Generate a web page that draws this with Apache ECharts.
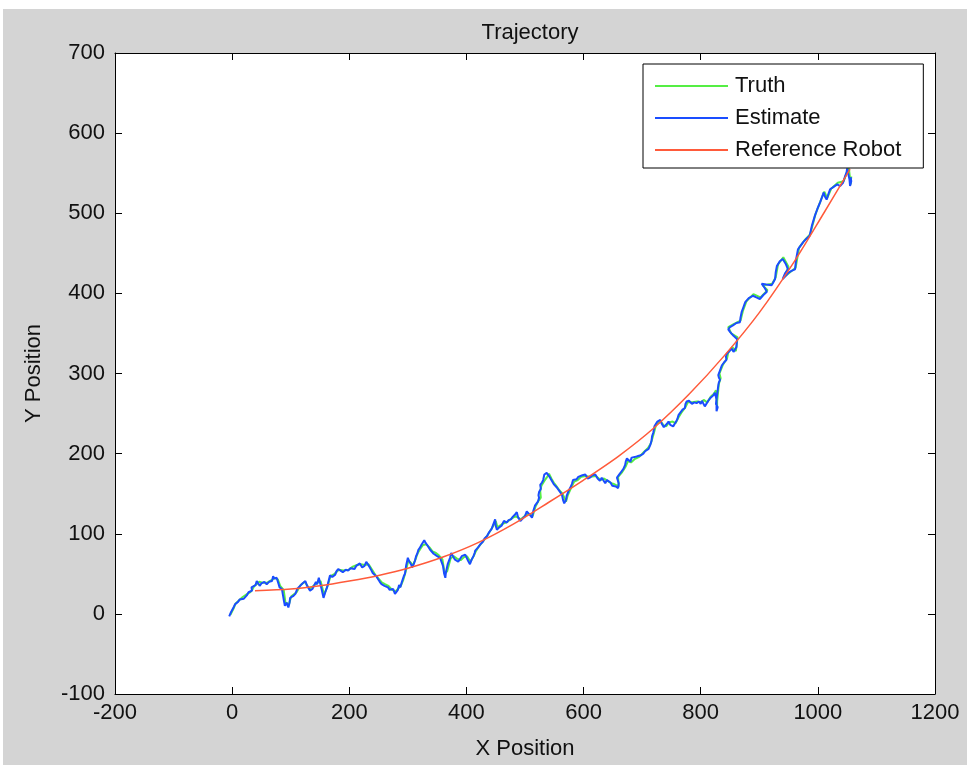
<!DOCTYPE html>
<html>
<head>
<meta charset="utf-8">
<script src="https://cdn.jsdelivr.net/npm/echarts@6/dist/echarts.min.js"></script>
<style>
  html, body { margin: 0; padding: 0; background: #fff; }
  #chart { position: absolute; left: 3px; top: 9px; width: 964px; height: 756px; }
</style>
</head>
<body>
<div id="chart"></div>
<script>
// ticks: min, max, step
var xTicks = [-200, 1200, 200]
var yTicks = [-100, 700, 100]

// series names
var seriesNames = ['Truth', 'Estimate', 'Reference Robot']

// Truth (green)
var truthPath = [
  [-3, -1], [2, 6], [6, 13], [12, 17], [18, 21], [26, 25], [31, 27], [35, 31], [38, 35], [42, 37],
  [46, 40], [52, 39], [60, 39], [67, 42], [73, 45], [78, 43], [82, 35], [88, 30], [91, 14], [97, 12],
  [101, 22], [110, 27], [117, 36], [124, 40], [132, 31], [139, 35], [146, 39], [151, 41], [157, 24], [163, 35],
  [168, 47], [175, 50], [182, 55], [190, 54], [199, 55], [206, 59], [213, 61], [219, 62], [227, 61], [233, 62],
  [239, 55], [244, 49], [250, 44], [256, 39], [261, 37], [267, 35], [273, 30], [279, 28], [284, 32], [288, 35],
  [292, 42], [296, 52], [301, 67], [305, 64], [308, 60], [313, 68], [317, 76], [322, 82], [326, 86], [331, 87],
  [337, 83], [342, 78], [348, 76], [353, 73], [359, 68], [363, 50], [367, 53], [373, 69], [378, 72], [384, 69],
  [390, 67], [396, 71], [401, 72], [407, 65], [413, 73], [416, 78], [421, 84], [429, 91], [436, 98], [441, 104],
  [446, 110], [450, 116], [453, 108], [461, 112], [470, 115], [477, 119], [484, 122], [493, 118], [501, 123], [507, 125],
  [513, 122], [518, 134], [523, 141], [527, 145], [526, 153], [528, 160], [533, 166], [537, 170], [541, 175], [545, 169],
  [549, 164], [553, 160], [559, 154], [564, 150], [570, 140], [573, 148], [578, 156], [584, 165], [590, 167], [596, 171],
  [604, 172], [612, 171], [621, 172], [629, 167], [635, 169], [641, 166], [647, 163], [652, 162], [660, 159], [659, 171],
  [666, 177], [672, 184], [676, 191], [681, 189], [687, 193], [695, 196], [703, 202], [710, 207], [715, 213], [719, 223],
  [722, 231], [724, 237], [732, 240], [737, 235], [741, 234], [746, 239], [752, 240], [757, 238], [762, 245], [767, 251],
  [774, 258], [778, 264], [786, 264], [794, 265], [801, 264], [805, 267], [811, 264], [817, 271], [823, 275], [826, 279],
  [828, 258], [828, 265], [831, 287], [834, 294], [832, 300], [838, 311], [845, 319], [847, 326], [854, 333], [860, 328],
  [863, 345], [852, 350], [847, 358], [857, 362], [868, 366], [872, 378], [878, 390], [890, 399], [902, 395], [914, 404],
  [906, 410], [922, 412], [928, 420], [932, 436], [941, 445], [950, 433], [942, 420], [962, 432], [968, 457], [977, 466],
  [987, 474], [996, 499], [1005, 516], [1011, 527], [1016, 519], [1023, 531], [1034, 538], [1044, 540], [1050, 552], [1053, 556],
  [1056, 536], [1057, 546]
]

// Estimate (blue)
var estimatePath = [
  [-5, -3], [-2, 2], [0, 4], [3, 9], [5, 12], [8, 11], [10, 15], [13, 18], [16, 20], [20, 19],
  [25, 23], [28, 27], [30, 26], [34, 29], [33, 33], [36, 34], [40, 36], [42, 41], [44, 39], [47, 35],
  [50, 38], [55, 40], [59, 37], [63, 40], [68, 41], [70, 47], [72, 44], [76, 45], [79, 38], [81, 33],
  [85, 31], [87, 29], [88, 18], [90, 10], [93, 14], [96, 8], [98, 14], [99, 20], [104, 22], [108, 25],
  [111, 31], [116, 35], [120, 38], [125, 41], [128, 35], [133, 29], [137, 31], [140, 33], [143, 40], [145, 37],
  [148, 45], [150, 43], [153, 30], [156, 20], [159, 27], [162, 33], [165, 42], [167, 48], [171, 46], [176, 49],
  [178, 53], [181, 56], [185, 54], [189, 52], [194, 55], [198, 54], [202, 57], [205, 58], [209, 56], [212, 60],
  [215, 62], [218, 63], [222, 58], [226, 60], [229, 65], [232, 64], [235, 58], [238, 54], [240, 51], [243, 50],
  [246, 47], [249, 45], [252, 40], [255, 37], [258, 38], [260, 35], [263, 36], [266, 33], [269, 30], [272, 28],
  [275, 31], [278, 25], [281, 27], [283, 30], [285, 36], [287, 33], [289, 38], [291, 40], [293, 47], [295, 50],
  [297, 60], [300, 70], [302, 66], [304, 65], [306, 61], [307, 58], [310, 62], [312, 66], [314, 72], [316, 75],
  [318, 80], [321, 83], [323, 86], [325, 87], [328, 92], [330, 89], [333, 86], [336, 84], [338, 80], [341, 79],
  [344, 75], [347, 77], [350, 72], [352, 74], [355, 70], [358, 70], [360, 60], [362, 50], [364, 45], [365, 52],
  [366, 50], [368, 62], [372, 70], [374, 76], [377, 74], [380, 68], [383, 70], [386, 65], [389, 66], [392, 72],
  [395, 70], [398, 74], [400, 73], [403, 66], [406, 62], [409, 68], [412, 72], [414, 76], [415, 79], [418, 80],
  [420, 83], [424, 87], [428, 90], [431, 94], [435, 97], [438, 101], [440, 103], [443, 106], [445, 108], [447, 114],
  [449, 118], [450, 110], [452, 105], [456, 108], [460, 110], [464, 116], [469, 114], [472, 117], [476, 118], [479, 121],
  [483, 124], [486, 127], [488, 121], [492, 116], [496, 119], [500, 122], [503, 128], [506, 126], [509, 123], [512, 120],
  [514, 128], [517, 135], [520, 136], [522, 140], [524, 145], [526, 143], [523, 148], [524, 152], [527, 156], [526, 161],
  [529, 164], [531, 167], [533, 174], [535, 172], [537, 176], [540, 178], [541, 172], [543, 170], [545, 167], [547, 166],
  [549, 162], [551, 161], [554, 158], [557, 155], [560, 152], [563, 149], [565, 142], [567, 138], [569, 136], [570, 142],
  [571, 147], [574, 153], [577, 157], [580, 162], [582, 167], [585, 165], [588, 168], [591, 171], [594, 170], [598, 173],
  [603, 174], [607, 169], [611, 170], [615, 173], [620, 174], [624, 169], [628, 166], [631, 170], [634, 168], [637, 163],
  [640, 167], [643, 166], [646, 164], [649, 160], [651, 161], [655, 159], [659, 157], [660, 163], [657, 170], [661, 174],
  [665, 178], [668, 181], [671, 186], [672, 190], [674, 194], [677, 192], [680, 190], [682, 195], [685, 194], [689, 196],
  [693, 197], [698, 198], [702, 200], [705, 203], [708, 205], [711, 206], [714, 211], [716, 216], [717, 222], [719, 226],
  [720, 230], [721, 234], [722, 236], [726, 240], [731, 242], [733, 238], [735, 236], [737, 233], [739, 232], [742, 237],
  [745, 240], [748, 236], [750, 238], [753, 234], [756, 236], [758, 240], [760, 243], [762, 248], [765, 250], [769, 255],
  [773, 257], [774, 262], [776, 265], [780, 266], [785, 262], [789, 264], [793, 263], [797, 265], [800, 262], [802, 266],
  [804, 265], [807, 259], [810, 261], [813, 266], [816, 269], [819, 271], [822, 273], [824, 276], [825, 277], [827, 268],
  [827, 253], [829, 258], [826, 262], [828, 274], [830, 285], [831, 289], [833, 292], [831, 295], [830, 298], [833, 304],
  [836, 310], [840, 314], [844, 317], [843, 321], [845, 325], [849, 328], [853, 331], [856, 327], [859, 325], [861, 333],
  [862, 343], [856, 347], [850, 352], [847, 355], [845, 356], [850, 358], [855, 360], [861, 363], [867, 364], [868, 370],
  [870, 377], [873, 383], [876, 389], [882, 394], [889, 397], [895, 395], [901, 393], [907, 398], [913, 402], [909, 407],
  [904, 412], [912, 411], [921, 410], [924, 414], [927, 418], [928, 426], [930, 434], [935, 440], [940, 443], [945, 437],
  [949, 430], [944, 425], [940, 418], [945, 422], [950, 426], [955, 428], [961, 430], [963, 443], [966, 455], [970, 459],
  [975, 464], [980, 468], [986, 472], [990, 485], [995, 497], [999, 505], [1004, 514], [1007, 520], [1010, 526], [1012, 521],
  [1015, 517], [1018, 524], [1021, 530], [1027, 533], [1033, 536], [1038, 534], [1043, 538], [1046, 545], [1049, 551], [1050, 556],
  [1052, 555], [1054, 542], [1055, 534], [1057, 540], [1056, 545]
]

// Reference Robot (red)
var referencePath = [
  [39, 29], [100, 31], [150, 35], [200, 41], [250, 48], [300, 57], [360, 71], [420, 89], [480, 112], [540, 139],
  [600, 167], [660, 197], [720, 232], [780, 274], [840, 322], [900, 376], [960, 440], [1010, 500], [1055, 555]
]

var font = 'Liberation Sans, Arial, sans-serif'
var chart = echarts.init(document.getElementById('chart'))

var axisCommon = {
  type: 'value',
  axisLine: { onZero: false, lineStyle: { color: '#000', width: 1 } },
  axisTick: { inside: true, length: 7, lineStyle: { color: '#000' } },
  splitLine: { show: false }
}

var labelStyle = {
  fontFamily: font,
  fontSize: 22,
  color: '#111',
  formatter: function (v) { return String(v) }
}

var option = {
  backgroundColor: '#d4d4d4',
  animation: false,
  title: {
    text: 'Trajectory',
    left: 522,
    top: 8,
    textAlign: 'center',
    textStyle: { fontFamily: font, fontSize: 22, fontWeight: 'normal', color: '#111' }
  },
  legend: {
    data: seriesNames,
    orient: 'vertical',
    left: 640,
    top: 55,
    padding: [11, 22, 7, 12],
    icon: 'rect',
    itemWidth: 73,
    itemHeight: 2,
    itemGap: 10,
    backgroundColor: '#fff',
    borderColor: '#000',
    borderWidth: 1,
    borderRadius: 0,
    textStyle: { fontFamily: font, fontSize: 22, lineHeight: 22, color: '#111', padding: [0, 0, 0, 2] }
  },
  grid: { left: 112, right: 32, top: 44, bottom: 68, backgroundColor: '#fff', show: true, borderWidth: 0 },
  xAxis: [
    Object.assign({}, axisCommon, {
      min: xTicks[0], max: xTicks[1], interval: xTicks[2],
      position: 'bottom',
      name: 'X Position',
      nameLocation: 'middle',
      nameGap: 44,
      nameTextStyle: { fontFamily: font, fontSize: 22, color: '#111' },
      axisLabel: Object.assign({ margin: 8 }, labelStyle)
    }),
    Object.assign({}, axisCommon, {
      min: xTicks[0], max: xTicks[1], interval: xTicks[2],
      position: 'top',
      axisLabel: { show: false }
    })
  ],
  yAxis: [
    Object.assign({}, axisCommon, {
      min: yTicks[0], max: yTicks[1], interval: yTicks[2],
      position: 'left',
      name: 'Y Position',
      nameLocation: 'middle',
      nameGap: 70,
      nameTextStyle: { fontFamily: font, fontSize: 22, color: '#111' },
      axisLabel: Object.assign({ margin: 10 }, labelStyle)
    }),
    Object.assign({}, axisCommon, {
      min: yTicks[0], max: yTicks[1], interval: yTicks[2],
      position: 'right',
      axisLabel: { show: false }
    })
  ],
  series: [
    {
      name: seriesNames[0],
      type: 'line',
      data: truthPath,
      showSymbol: false,
      symbol: 'none',
      color: '#55ee44',
      lineStyle: { width: 2, color: '#55ee44' },
      z: 2
    },
    {
      name: seriesNames[1],
      type: 'line',
      data: estimatePath,
      showSymbol: false,
      symbol: 'none',
      color: '#1a4dff',
      lineStyle: { width: 2, color: '#1a4dff' },
      z: 3
    },
    {
      name: seriesNames[2],
      type: 'line',
      data: referencePath,
      smooth: 0.3,
      showSymbol: false,
      symbol: 'none',
      color: '#ff5a3a',
      lineStyle: { width: 1.5, color: '#ff5a3a' },
      z: 4
    }
  ]
}

chart.setOption(option)
</script>
</body>
</html>
